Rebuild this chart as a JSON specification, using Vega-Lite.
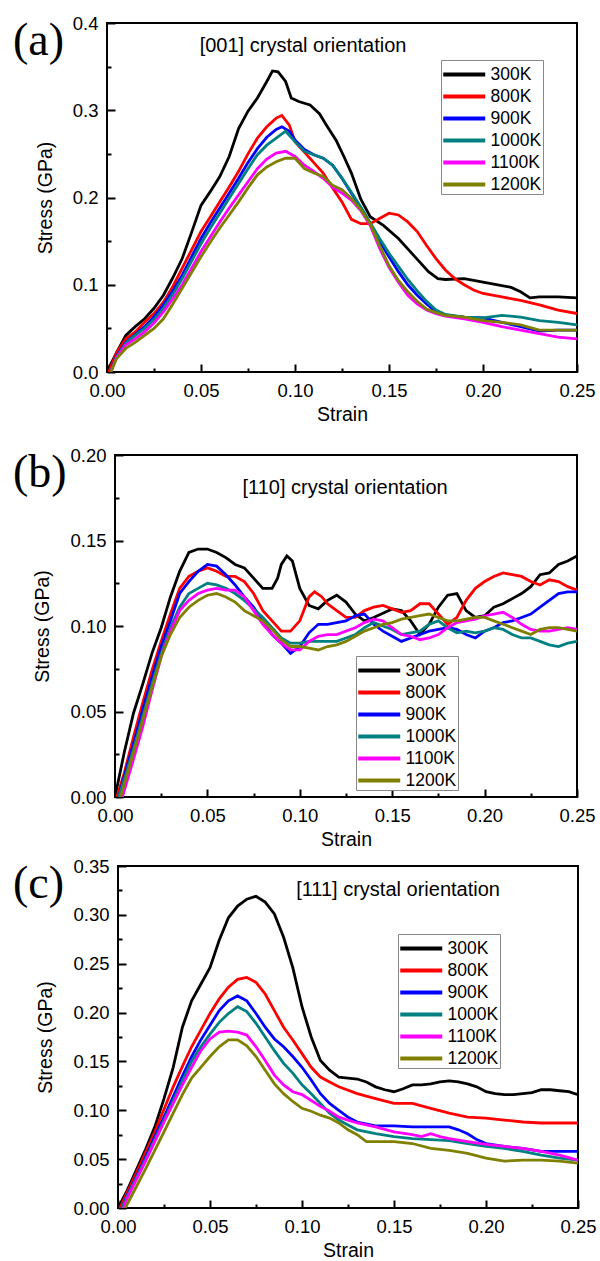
{
"$schema": "https://vega.github.io/schema/vega-lite/v6.json",
"background": "white",
"padding": {"left": 5, "top": 13, "right": 0, "bottom": 0},
"config": {
 "font": "Liberation Sans",
 "view": {"stroke": "black", "strokeWidth": 2},
 "axis": {"grid": false, "domain": false, "ticks": true, "tickColor": "black", "tickWidth": 2, "labelFont": "Liberation Sans", "labelFontSize": 18.5, "labelColor": "black", "labelPadding": 17, "labelFlush": false, "labelOverlap": false, "titleFont": "Liberation Sans", "titleFontSize": 19.5, "titleFontWeight": "normal", "titleColor": "black"},
 "axisX": {"titlePadding": 2},
 "axisY": {"titlePadding": 17},
 "legend": {"title": null, "orient": "none", "symbolType": "M-1.089,0H2.644", "symbolSize": 506, "symbolStrokeWidth": 4, "symbolFillColor": "transparent", "labelFont": "Liberation Sans", "labelFontSize": 17.5, "labelColor": "black", "strokeColor": "#888888", "fillColor": "white", "padding": 1, "rowPadding": 0, "labelOffset": 21.5}
},
"datasets": {
 "a": [
{"T":"300K","strain":0,"stress":0},{"T":"300K","strain":0.005,"stress":0.022},{"T":"300K","strain":0.01,"stress":0.042},{"T":"300K","strain":0.015,"stress":0.052},{"T":"300K","strain":0.02,"stress":0.061},{"T":"300K","strain":0.025,"stress":0.073},{"T":"300K","strain":0.03,"stress":0.088},{"T":"300K","strain":0.035,"stress":0.108},{"T":"300K","strain":0.04,"stress":0.13},{"T":"300K","strain":0.045,"stress":0.16},{"T":"300K","strain":0.05,"stress":0.191},{"T":"300K","strain":0.055,"stress":0.207},{"T":"300K","strain":0.06,"stress":0.224},{"T":"300K","strain":0.065,"stress":0.247},{"T":"300K","strain":0.07,"stress":0.279},{"T":"300K","strain":0.075,"stress":0.299},{"T":"300K","strain":0.08,"stress":0.314},{"T":"300K","strain":0.085,"stress":0.333},{"T":"300K","strain":0.088,"stress":0.345},{"T":"300K","strain":0.091,"stress":0.344},{"T":"300K","strain":0.095,"stress":0.333},{"T":"300K","strain":0.098,"stress":0.314},{"T":"300K","strain":0.102,"stress":0.31},{"T":"300K","strain":0.108,"stress":0.306},{"T":"300K","strain":0.113,"stress":0.296},{"T":"300K","strain":0.117,"stress":0.282},{"T":"300K","strain":0.122,"stress":0.265},{"T":"300K","strain":0.126,"stress":0.247},{"T":"300K","strain":0.13,"stress":0.228},{"T":"300K","strain":0.135,"stress":0.198},{"T":"300K","strain":0.14,"stress":0.178},{"T":"300K","strain":0.147,"stress":0.168},{"T":"300K","strain":0.155,"stress":0.153},{"T":"300K","strain":0.163,"stress":0.134},{"T":"300K","strain":0.171,"stress":0.115},{"T":"300K","strain":0.176,"stress":0.107},{"T":"300K","strain":0.18,"stress":0.106},{"T":"300K","strain":0.19,"stress":0.107},{"T":"300K","strain":0.2,"stress":0.103},{"T":"300K","strain":0.21,"stress":0.099},{"T":"300K","strain":0.215,"stress":0.097},{"T":"300K","strain":0.22,"stress":0.092},{"T":"300K","strain":0.225,"stress":0.085},{"T":"300K","strain":0.23,"stress":0.086},{"T":"300K","strain":0.24,"stress":0.086},{"T":"300K","strain":0.25,"stress":0.085},
{"T":"800K","strain":0.001,"stress":0},{"T":"800K","strain":0.005,"stress":0.022},{"T":"800K","strain":0.01,"stress":0.038},{"T":"800K","strain":0.015,"stress":0.046},{"T":"800K","strain":0.02,"stress":0.057},{"T":"800K","strain":0.025,"stress":0.067},{"T":"800K","strain":0.03,"stress":0.08},{"T":"800K","strain":0.035,"stress":0.098},{"T":"800K","strain":0.04,"stress":0.119},{"T":"800K","strain":0.045,"stress":0.14},{"T":"800K","strain":0.05,"stress":0.161},{"T":"800K","strain":0.055,"stress":0.178},{"T":"800K","strain":0.06,"stress":0.195},{"T":"800K","strain":0.065,"stress":0.212},{"T":"800K","strain":0.07,"stress":0.23},{"T":"800K","strain":0.075,"stress":0.25},{"T":"800K","strain":0.08,"stress":0.268},{"T":"800K","strain":0.085,"stress":0.281},{"T":"800K","strain":0.09,"stress":0.291},{"T":"800K","strain":0.093,"stress":0.294},{"T":"800K","strain":0.097,"stress":0.283},{"T":"800K","strain":0.1,"stress":0.264},{"T":"800K","strain":0.105,"stress":0.252},{"T":"800K","strain":0.11,"stress":0.24},{"T":"800K","strain":0.115,"stress":0.228},{"T":"800K","strain":0.12,"stress":0.211},{"T":"800K","strain":0.125,"stress":0.195},{"T":"800K","strain":0.13,"stress":0.175},{"T":"800K","strain":0.135,"stress":0.17},{"T":"800K","strain":0.14,"stress":0.17},{"T":"800K","strain":0.145,"stress":0.176},{"T":"800K","strain":0.15,"stress":0.182},{"T":"800K","strain":0.155,"stress":0.18},{"T":"800K","strain":0.16,"stress":0.172},{"T":"800K","strain":0.165,"stress":0.161},{"T":"800K","strain":0.17,"stress":0.145},{"T":"800K","strain":0.175,"stress":0.13},{"T":"800K","strain":0.18,"stress":0.117},{"T":"800K","strain":0.185,"stress":0.107},{"T":"800K","strain":0.19,"stress":0.1},{"T":"800K","strain":0.195,"stress":0.094},{"T":"800K","strain":0.2,"stress":0.09},{"T":"800K","strain":0.21,"stress":0.086},{"T":"800K","strain":0.22,"stress":0.082},{"T":"800K","strain":0.23,"stress":0.077},{"T":"800K","strain":0.24,"stress":0.071},{"T":"800K","strain":0.25,"stress":0.067},
{"T":"900K","strain":0.002,"stress":0},{"T":"900K","strain":0.005,"stress":0.018},{"T":"900K","strain":0.01,"stress":0.034},{"T":"900K","strain":0.015,"stress":0.043},{"T":"900K","strain":0.02,"stress":0.052},{"T":"900K","strain":0.025,"stress":0.063},{"T":"900K","strain":0.03,"stress":0.077},{"T":"900K","strain":0.035,"stress":0.093},{"T":"900K","strain":0.04,"stress":0.111},{"T":"900K","strain":0.045,"stress":0.132},{"T":"900K","strain":0.05,"stress":0.153},{"T":"900K","strain":0.055,"stress":0.171},{"T":"900K","strain":0.06,"stress":0.188},{"T":"900K","strain":0.065,"stress":0.205},{"T":"900K","strain":0.07,"stress":0.222},{"T":"900K","strain":0.075,"stress":0.24},{"T":"900K","strain":0.08,"stress":0.256},{"T":"900K","strain":0.085,"stress":0.269},{"T":"900K","strain":0.09,"stress":0.278},{"T":"900K","strain":0.093,"stress":0.281},{"T":"900K","strain":0.097,"stress":0.276},{"T":"900K","strain":0.1,"stress":0.266},{"T":"900K","strain":0.105,"stress":0.255},{"T":"900K","strain":0.11,"stress":0.249},{"T":"900K","strain":0.115,"stress":0.245},{"T":"900K","strain":0.12,"stress":0.237},{"T":"900K","strain":0.125,"stress":0.222},{"T":"900K","strain":0.13,"stress":0.205},{"T":"900K","strain":0.135,"stress":0.188},{"T":"900K","strain":0.14,"stress":0.17},{"T":"900K","strain":0.145,"stress":0.15},{"T":"900K","strain":0.15,"stress":0.132},{"T":"900K","strain":0.155,"stress":0.115},{"T":"900K","strain":0.16,"stress":0.1},{"T":"900K","strain":0.165,"stress":0.088},{"T":"900K","strain":0.17,"stress":0.078},{"T":"900K","strain":0.175,"stress":0.069},{"T":"900K","strain":0.18,"stress":0.065},{"T":"900K","strain":0.19,"stress":0.063},{"T":"900K","strain":0.2,"stress":0.062},{"T":"900K","strain":0.21,"stress":0.057},{"T":"900K","strain":0.22,"stress":0.052},{"T":"900K","strain":0.23,"stress":0.047},{"T":"900K","strain":0.24,"stress":0.048},{"T":"900K","strain":0.25,"stress":0.048},
{"T":"1000K","strain":0.002,"stress":0},{"T":"1000K","strain":0.005,"stress":0.017},{"T":"1000K","strain":0.01,"stress":0.033},{"T":"1000K","strain":0.015,"stress":0.042},{"T":"1000K","strain":0.02,"stress":0.05},{"T":"1000K","strain":0.025,"stress":0.06},{"T":"1000K","strain":0.03,"stress":0.073},{"T":"1000K","strain":0.035,"stress":0.089},{"T":"1000K","strain":0.04,"stress":0.107},{"T":"1000K","strain":0.045,"stress":0.127},{"T":"1000K","strain":0.05,"stress":0.147},{"T":"1000K","strain":0.055,"stress":0.165},{"T":"1000K","strain":0.06,"stress":0.182},{"T":"1000K","strain":0.065,"stress":0.199},{"T":"1000K","strain":0.07,"stress":0.216},{"T":"1000K","strain":0.075,"stress":0.233},{"T":"1000K","strain":0.08,"stress":0.249},{"T":"1000K","strain":0.085,"stress":0.26},{"T":"1000K","strain":0.09,"stress":0.268},{"T":"1000K","strain":0.095,"stress":0.276},{"T":"1000K","strain":0.1,"stress":0.264},{"T":"1000K","strain":0.105,"stress":0.253},{"T":"1000K","strain":0.11,"stress":0.249},{"T":"1000K","strain":0.115,"stress":0.245},{"T":"1000K","strain":0.12,"stress":0.237},{"T":"1000K","strain":0.125,"stress":0.222},{"T":"1000K","strain":0.13,"stress":0.206},{"T":"1000K","strain":0.135,"stress":0.189},{"T":"1000K","strain":0.14,"stress":0.171},{"T":"1000K","strain":0.145,"stress":0.153},{"T":"1000K","strain":0.15,"stress":0.136},{"T":"1000K","strain":0.155,"stress":0.121},{"T":"1000K","strain":0.16,"stress":0.106},{"T":"1000K","strain":0.165,"stress":0.093},{"T":"1000K","strain":0.17,"stress":0.081},{"T":"1000K","strain":0.175,"stress":0.071},{"T":"1000K","strain":0.18,"stress":0.066},{"T":"1000K","strain":0.19,"stress":0.063},{"T":"1000K","strain":0.2,"stress":0.062},{"T":"1000K","strain":0.21,"stress":0.065},{"T":"1000K","strain":0.22,"stress":0.063},{"T":"1000K","strain":0.23,"stress":0.059},{"T":"1000K","strain":0.24,"stress":0.057},{"T":"1000K","strain":0.25,"stress":0.054},
{"T":"1100K","strain":0.002,"stress":0},{"T":"1100K","strain":0.005,"stress":0.016},{"T":"1100K","strain":0.01,"stress":0.031},{"T":"1100K","strain":0.015,"stress":0.038},{"T":"1100K","strain":0.02,"stress":0.046},{"T":"1100K","strain":0.025,"stress":0.056},{"T":"1100K","strain":0.03,"stress":0.069},{"T":"1100K","strain":0.035,"stress":0.084},{"T":"1100K","strain":0.04,"stress":0.1},{"T":"1100K","strain":0.045,"stress":0.119},{"T":"1100K","strain":0.05,"stress":0.138},{"T":"1100K","strain":0.055,"stress":0.155},{"T":"1100K","strain":0.06,"stress":0.172},{"T":"1100K","strain":0.065,"stress":0.188},{"T":"1100K","strain":0.07,"stress":0.203},{"T":"1100K","strain":0.075,"stress":0.218},{"T":"1100K","strain":0.08,"stress":0.233},{"T":"1100K","strain":0.085,"stress":0.244},{"T":"1100K","strain":0.09,"stress":0.251},{"T":"1100K","strain":0.095,"stress":0.253},{"T":"1100K","strain":0.1,"stress":0.247},{"T":"1100K","strain":0.105,"stress":0.237},{"T":"1100K","strain":0.11,"stress":0.23},{"T":"1100K","strain":0.115,"stress":0.222},{"T":"1100K","strain":0.12,"stress":0.212},{"T":"1100K","strain":0.125,"stress":0.205},{"T":"1100K","strain":0.13,"stress":0.197},{"T":"1100K","strain":0.135,"stress":0.185},{"T":"1100K","strain":0.14,"stress":0.168},{"T":"1100K","strain":0.145,"stress":0.142},{"T":"1100K","strain":0.15,"stress":0.12},{"T":"1100K","strain":0.155,"stress":0.103},{"T":"1100K","strain":0.16,"stress":0.088},{"T":"1100K","strain":0.165,"stress":0.078},{"T":"1100K","strain":0.17,"stress":0.071},{"T":"1100K","strain":0.175,"stress":0.067},{"T":"1100K","strain":0.18,"stress":0.064},{"T":"1100K","strain":0.19,"stress":0.061},{"T":"1100K","strain":0.2,"stress":0.057},{"T":"1100K","strain":0.21,"stress":0.052},{"T":"1100K","strain":0.22,"stress":0.048},{"T":"1100K","strain":0.23,"stress":0.044},{"T":"1100K","strain":0.24,"stress":0.04},{"T":"1100K","strain":0.25,"stress":0.038},
{"T":"1200K","strain":0.002,"stress":0},{"T":"1200K","strain":0.005,"stress":0.015},{"T":"1200K","strain":0.01,"stress":0.027},{"T":"1200K","strain":0.015,"stress":0.034},{"T":"1200K","strain":0.02,"stress":0.042},{"T":"1200K","strain":0.025,"stress":0.05},{"T":"1200K","strain":0.03,"stress":0.061},{"T":"1200K","strain":0.035,"stress":0.078},{"T":"1200K","strain":0.04,"stress":0.096},{"T":"1200K","strain":0.045,"stress":0.114},{"T":"1200K","strain":0.05,"stress":0.132},{"T":"1200K","strain":0.055,"stress":0.149},{"T":"1200K","strain":0.06,"stress":0.165},{"T":"1200K","strain":0.065,"stress":0.18},{"T":"1200K","strain":0.07,"stress":0.195},{"T":"1200K","strain":0.075,"stress":0.211},{"T":"1200K","strain":0.08,"stress":0.226},{"T":"1200K","strain":0.085,"stress":0.235},{"T":"1200K","strain":0.09,"stress":0.241},{"T":"1200K","strain":0.095,"stress":0.245},{"T":"1200K","strain":0.1,"stress":0.245},{"T":"1200K","strain":0.105,"stress":0.233},{"T":"1200K","strain":0.11,"stress":0.228},{"T":"1200K","strain":0.115,"stress":0.224},{"T":"1200K","strain":0.12,"stress":0.214},{"T":"1200K","strain":0.125,"stress":0.209},{"T":"1200K","strain":0.13,"stress":0.199},{"T":"1200K","strain":0.135,"stress":0.186},{"T":"1200K","strain":0.14,"stress":0.17},{"T":"1200K","strain":0.145,"stress":0.145},{"T":"1200K","strain":0.15,"stress":0.122},{"T":"1200K","strain":0.155,"stress":0.105},{"T":"1200K","strain":0.16,"stress":0.092},{"T":"1200K","strain":0.165,"stress":0.081},{"T":"1200K","strain":0.17,"stress":0.072},{"T":"1200K","strain":0.175,"stress":0.068},{"T":"1200K","strain":0.18,"stress":0.065},{"T":"1200K","strain":0.19,"stress":0.063},{"T":"1200K","strain":0.2,"stress":0.059},{"T":"1200K","strain":0.21,"stress":0.057},{"T":"1200K","strain":0.22,"stress":0.054},{"T":"1200K","strain":0.23,"stress":0.048},{"T":"1200K","strain":0.24,"stress":0.048},{"T":"1200K","strain":0.25,"stress":0.048}
 ],
 "b": [
{"T":"300K","strain":0,"stress":0},{"T":"300K","strain":0.005,"stress":0.026},{"T":"300K","strain":0.01,"stress":0.049},{"T":"300K","strain":0.015,"stress":0.066},{"T":"300K","strain":0.02,"stress":0.084},{"T":"300K","strain":0.025,"stress":0.099},{"T":"300K","strain":0.03,"stress":0.117},{"T":"300K","strain":0.035,"stress":0.132},{"T":"300K","strain":0.04,"stress":0.143},{"T":"300K","strain":0.045,"stress":0.145},{"T":"300K","strain":0.05,"stress":0.145},{"T":"300K","strain":0.055,"stress":0.143},{"T":"300K","strain":0.06,"stress":0.14},{"T":"300K","strain":0.065,"stress":0.136},{"T":"300K","strain":0.07,"stress":0.134},{"T":"300K","strain":0.075,"stress":0.128},{"T":"300K","strain":0.08,"stress":0.122},{"T":"300K","strain":0.085,"stress":0.122},{"T":"300K","strain":0.088,"stress":0.128},{"T":"300K","strain":0.09,"stress":0.136},{"T":"300K","strain":0.093,"stress":0.141},{"T":"300K","strain":0.096,"stress":0.138},{"T":"300K","strain":0.1,"stress":0.122},{"T":"300K","strain":0.105,"stress":0.112},{"T":"300K","strain":0.11,"stress":0.11},{"T":"300K","strain":0.115,"stress":0.115},{"T":"300K","strain":0.12,"stress":0.118},{"T":"300K","strain":0.125,"stress":0.114},{"T":"300K","strain":0.13,"stress":0.107},{"T":"300K","strain":0.135,"stress":0.103},{"T":"300K","strain":0.14,"stress":0.105},{"T":"300K","strain":0.15,"stress":0.11},{"T":"300K","strain":0.155,"stress":0.109},{"T":"300K","strain":0.16,"stress":0.103},{"T":"300K","strain":0.165,"stress":0.095},{"T":"300K","strain":0.17,"stress":0.101},{"T":"300K","strain":0.175,"stress":0.111},{"T":"300K","strain":0.18,"stress":0.118},{"T":"300K","strain":0.185,"stress":0.119},{"T":"300K","strain":0.19,"stress":0.109},{"T":"300K","strain":0.195,"stress":0.105},{"T":"300K","strain":0.2,"stress":0.106},{"T":"300K","strain":0.205,"stress":0.111},{"T":"300K","strain":0.21,"stress":0.113},{"T":"300K","strain":0.215,"stress":0.116},{"T":"300K","strain":0.22,"stress":0.119},{"T":"300K","strain":0.225,"stress":0.123},{"T":"300K","strain":0.23,"stress":0.13},{"T":"300K","strain":0.235,"stress":0.131},{"T":"300K","strain":0.24,"stress":0.136},{"T":"300K","strain":0.245,"stress":0.138},{"T":"300K","strain":0.25,"stress":0.141},
{"T":"800K","strain":0.001,"stress":0},{"T":"800K","strain":0.005,"stress":0.014},{"T":"800K","strain":0.01,"stress":0.035},{"T":"800K","strain":0.015,"stress":0.055},{"T":"800K","strain":0.02,"stress":0.074},{"T":"800K","strain":0.025,"stress":0.091},{"T":"800K","strain":0.03,"stress":0.107},{"T":"800K","strain":0.035,"stress":0.122},{"T":"800K","strain":0.04,"stress":0.129},{"T":"800K","strain":0.045,"stress":0.132},{"T":"800K","strain":0.05,"stress":0.134},{"T":"800K","strain":0.055,"stress":0.132},{"T":"800K","strain":0.06,"stress":0.129},{"T":"800K","strain":0.065,"stress":0.129},{"T":"800K","strain":0.07,"stress":0.126},{"T":"800K","strain":0.075,"stress":0.119},{"T":"800K","strain":0.08,"stress":0.109},{"T":"800K","strain":0.085,"stress":0.103},{"T":"800K","strain":0.09,"stress":0.097},{"T":"800K","strain":0.095,"stress":0.097},{"T":"800K","strain":0.1,"stress":0.103},{"T":"800K","strain":0.105,"stress":0.117},{"T":"800K","strain":0.108,"stress":0.12},{"T":"800K","strain":0.112,"stress":0.117},{"T":"800K","strain":0.115,"stress":0.113},{"T":"800K","strain":0.12,"stress":0.109},{"T":"800K","strain":0.125,"stress":0.105},{"T":"800K","strain":0.13,"stress":0.105},{"T":"800K","strain":0.135,"stress":0.109},{"T":"800K","strain":0.14,"stress":0.111},{"T":"800K","strain":0.145,"stress":0.112},{"T":"800K","strain":0.15,"stress":0.11},{"T":"800K","strain":0.155,"stress":0.108},{"T":"800K","strain":0.16,"stress":0.109},{"T":"800K","strain":0.165,"stress":0.113},{"T":"800K","strain":0.17,"stress":0.113},{"T":"800K","strain":0.175,"stress":0.107},{"T":"800K","strain":0.18,"stress":0.101},{"T":"800K","strain":0.185,"stress":0.105},{"T":"800K","strain":0.19,"stress":0.115},{"T":"800K","strain":0.195,"stress":0.122},{"T":"800K","strain":0.2,"stress":0.126},{"T":"800K","strain":0.205,"stress":0.129},{"T":"800K","strain":0.21,"stress":0.131},{"T":"800K","strain":0.215,"stress":0.13},{"T":"800K","strain":0.22,"stress":0.129},{"T":"800K","strain":0.225,"stress":0.126},{"T":"800K","strain":0.23,"stress":0.124},{"T":"800K","strain":0.235,"stress":0.127},{"T":"800K","strain":0.24,"stress":0.126},{"T":"800K","strain":0.245,"stress":0.123},{"T":"800K","strain":0.25,"stress":0.121},
{"T":"900K","strain":0.002,"stress":0},{"T":"900K","strain":0.005,"stress":0.012},{"T":"900K","strain":0.01,"stress":0.031},{"T":"900K","strain":0.015,"stress":0.051},{"T":"900K","strain":0.02,"stress":0.07},{"T":"900K","strain":0.025,"stress":0.088},{"T":"900K","strain":0.03,"stress":0.103},{"T":"900K","strain":0.035,"stress":0.119},{"T":"900K","strain":0.04,"stress":0.126},{"T":"900K","strain":0.045,"stress":0.132},{"T":"900K","strain":0.05,"stress":0.136},{"T":"900K","strain":0.055,"stress":0.135},{"T":"900K","strain":0.06,"stress":0.13},{"T":"900K","strain":0.065,"stress":0.124},{"T":"900K","strain":0.07,"stress":0.117},{"T":"900K","strain":0.075,"stress":0.111},{"T":"900K","strain":0.08,"stress":0.103},{"T":"900K","strain":0.085,"stress":0.095},{"T":"900K","strain":0.09,"stress":0.09},{"T":"900K","strain":0.095,"stress":0.084},{"T":"900K","strain":0.1,"stress":0.088},{"T":"900K","strain":0.105,"stress":0.096},{"T":"900K","strain":0.11,"stress":0.101},{"T":"900K","strain":0.115,"stress":0.101},{"T":"900K","strain":0.12,"stress":0.102},{"T":"900K","strain":0.125,"stress":0.103},{"T":"900K","strain":0.13,"stress":0.106},{"T":"900K","strain":0.135,"stress":0.107},{"T":"900K","strain":0.14,"stress":0.101},{"T":"900K","strain":0.145,"stress":0.097},{"T":"900K","strain":0.15,"stress":0.094},{"T":"900K","strain":0.155,"stress":0.091},{"T":"900K","strain":0.16,"stress":0.093},{"T":"900K","strain":0.165,"stress":0.095},{"T":"900K","strain":0.17,"stress":0.097},{"T":"900K","strain":0.175,"stress":0.098},{"T":"900K","strain":0.18,"stress":0.099},{"T":"900K","strain":0.185,"stress":0.098},{"T":"900K","strain":0.19,"stress":0.095},{"T":"900K","strain":0.195,"stress":0.093},{"T":"900K","strain":0.2,"stress":0.097},{"T":"900K","strain":0.205,"stress":0.099},{"T":"900K","strain":0.21,"stress":0.102},{"T":"900K","strain":0.215,"stress":0.103},{"T":"900K","strain":0.22,"stress":0.105},{"T":"900K","strain":0.225,"stress":0.107},{"T":"900K","strain":0.23,"stress":0.111},{"T":"900K","strain":0.235,"stress":0.115},{"T":"900K","strain":0.24,"stress":0.119},{"T":"900K","strain":0.245,"stress":0.12},{"T":"900K","strain":0.25,"stress":0.12},
{"T":"1000K","strain":0.002,"stress":0},{"T":"1000K","strain":0.005,"stress":0.01},{"T":"1000K","strain":0.01,"stress":0.028},{"T":"1000K","strain":0.015,"stress":0.047},{"T":"1000K","strain":0.02,"stress":0.066},{"T":"1000K","strain":0.025,"stress":0.084},{"T":"1000K","strain":0.03,"stress":0.099},{"T":"1000K","strain":0.035,"stress":0.111},{"T":"1000K","strain":0.04,"stress":0.119},{"T":"1000K","strain":0.045,"stress":0.122},{"T":"1000K","strain":0.05,"stress":0.125},{"T":"1000K","strain":0.055,"stress":0.124},{"T":"1000K","strain":0.06,"stress":0.122},{"T":"1000K","strain":0.065,"stress":0.119},{"T":"1000K","strain":0.07,"stress":0.115},{"T":"1000K","strain":0.075,"stress":0.11},{"T":"1000K","strain":0.08,"stress":0.105},{"T":"1000K","strain":0.085,"stress":0.099},{"T":"1000K","strain":0.09,"stress":0.093},{"T":"1000K","strain":0.095,"stress":0.09},{"T":"1000K","strain":0.1,"stress":0.09},{"T":"1000K","strain":0.105,"stress":0.091},{"T":"1000K","strain":0.11,"stress":0.091},{"T":"1000K","strain":0.115,"stress":0.091},{"T":"1000K","strain":0.12,"stress":0.091},{"T":"1000K","strain":0.125,"stress":0.093},{"T":"1000K","strain":0.13,"stress":0.095},{"T":"1000K","strain":0.135,"stress":0.099},{"T":"1000K","strain":0.14,"stress":0.102},{"T":"1000K","strain":0.145,"stress":0.1},{"T":"1000K","strain":0.15,"stress":0.098},{"T":"1000K","strain":0.155,"stress":0.095},{"T":"1000K","strain":0.16,"stress":0.096},{"T":"1000K","strain":0.165,"stress":0.097},{"T":"1000K","strain":0.17,"stress":0.101},{"T":"1000K","strain":0.175,"stress":0.103},{"T":"1000K","strain":0.18,"stress":0.099},{"T":"1000K","strain":0.185,"stress":0.096},{"T":"1000K","strain":0.19,"stress":0.097},{"T":"1000K","strain":0.195,"stress":0.096},{"T":"1000K","strain":0.2,"stress":0.097},{"T":"1000K","strain":0.205,"stress":0.099},{"T":"1000K","strain":0.21,"stress":0.098},{"T":"1000K","strain":0.215,"stress":0.095},{"T":"1000K","strain":0.22,"stress":0.093},{"T":"1000K","strain":0.225,"stress":0.093},{"T":"1000K","strain":0.23,"stress":0.091},{"T":"1000K","strain":0.235,"stress":0.089},{"T":"1000K","strain":0.24,"stress":0.088},{"T":"1000K","strain":0.245,"stress":0.09},{"T":"1000K","strain":0.25,"stress":0.091},
{"T":"1100K","strain":0.004,"stress":0},{"T":"1100K","strain":0.01,"stress":0.022},{"T":"1100K","strain":0.015,"stress":0.041},{"T":"1100K","strain":0.02,"stress":0.062},{"T":"1100K","strain":0.025,"stress":0.082},{"T":"1100K","strain":0.03,"stress":0.097},{"T":"1100K","strain":0.035,"stress":0.109},{"T":"1100K","strain":0.04,"stress":0.115},{"T":"1100K","strain":0.045,"stress":0.119},{"T":"1100K","strain":0.05,"stress":0.121},{"T":"1100K","strain":0.055,"stress":0.122},{"T":"1100K","strain":0.06,"stress":0.121},{"T":"1100K","strain":0.065,"stress":0.121},{"T":"1100K","strain":0.07,"stress":0.117},{"T":"1100K","strain":0.075,"stress":0.109},{"T":"1100K","strain":0.08,"stress":0.101},{"T":"1100K","strain":0.085,"stress":0.095},{"T":"1100K","strain":0.09,"stress":0.09},{"T":"1100K","strain":0.095,"stress":0.086},{"T":"1100K","strain":0.1,"stress":0.086},{"T":"1100K","strain":0.105,"stress":0.091},{"T":"1100K","strain":0.11,"stress":0.094},{"T":"1100K","strain":0.115,"stress":0.095},{"T":"1100K","strain":0.12,"stress":0.095},{"T":"1100K","strain":0.125,"stress":0.097},{"T":"1100K","strain":0.13,"stress":0.099},{"T":"1100K","strain":0.135,"stress":0.102},{"T":"1100K","strain":0.14,"stress":0.104},{"T":"1100K","strain":0.145,"stress":0.103},{"T":"1100K","strain":0.15,"stress":0.099},{"T":"1100K","strain":0.155,"stress":0.095},{"T":"1100K","strain":0.16,"stress":0.094},{"T":"1100K","strain":0.165,"stress":0.092},{"T":"1100K","strain":0.17,"stress":0.093},{"T":"1100K","strain":0.175,"stress":0.095},{"T":"1100K","strain":0.18,"stress":0.099},{"T":"1100K","strain":0.185,"stress":0.102},{"T":"1100K","strain":0.19,"stress":0.103},{"T":"1100K","strain":0.195,"stress":0.104},{"T":"1100K","strain":0.2,"stress":0.106},{"T":"1100K","strain":0.205,"stress":0.107},{"T":"1100K","strain":0.21,"stress":0.108},{"T":"1100K","strain":0.215,"stress":0.105},{"T":"1100K","strain":0.22,"stress":0.101},{"T":"1100K","strain":0.225,"stress":0.098},{"T":"1100K","strain":0.23,"stress":0.097},{"T":"1100K","strain":0.235,"stress":0.097},{"T":"1100K","strain":0.24,"stress":0.098},{"T":"1100K","strain":0.245,"stress":0.099},{"T":"1100K","strain":0.25,"stress":0.098},
{"T":"1200K","strain":0.003,"stress":0},{"T":"1200K","strain":0.01,"stress":0.026},{"T":"1200K","strain":0.015,"stress":0.045},{"T":"1200K","strain":0.02,"stress":0.064},{"T":"1200K","strain":0.025,"stress":0.082},{"T":"1200K","strain":0.03,"stress":0.095},{"T":"1200K","strain":0.035,"stress":0.105},{"T":"1200K","strain":0.04,"stress":0.111},{"T":"1200K","strain":0.045,"stress":0.115},{"T":"1200K","strain":0.05,"stress":0.118},{"T":"1200K","strain":0.055,"stress":0.119},{"T":"1200K","strain":0.06,"stress":0.117},{"T":"1200K","strain":0.065,"stress":0.114},{"T":"1200K","strain":0.07,"stress":0.109},{"T":"1200K","strain":0.075,"stress":0.106},{"T":"1200K","strain":0.08,"stress":0.103},{"T":"1200K","strain":0.085,"stress":0.098},{"T":"1200K","strain":0.09,"stress":0.092},{"T":"1200K","strain":0.095,"stress":0.088},{"T":"1200K","strain":0.1,"stress":0.088},{"T":"1200K","strain":0.105,"stress":0.087},{"T":"1200K","strain":0.11,"stress":0.086},{"T":"1200K","strain":0.115,"stress":0.088},{"T":"1200K","strain":0.12,"stress":0.089},{"T":"1200K","strain":0.125,"stress":0.091},{"T":"1200K","strain":0.13,"stress":0.094},{"T":"1200K","strain":0.135,"stress":0.097},{"T":"1200K","strain":0.14,"stress":0.099},{"T":"1200K","strain":0.145,"stress":0.101},{"T":"1200K","strain":0.15,"stress":0.102},{"T":"1200K","strain":0.155,"stress":0.104},{"T":"1200K","strain":0.16,"stress":0.105},{"T":"1200K","strain":0.165,"stress":0.106},{"T":"1200K","strain":0.17,"stress":0.107},{"T":"1200K","strain":0.175,"stress":0.105},{"T":"1200K","strain":0.18,"stress":0.103},{"T":"1200K","strain":0.185,"stress":0.103},{"T":"1200K","strain":0.19,"stress":0.104},{"T":"1200K","strain":0.195,"stress":0.105},{"T":"1200K","strain":0.2,"stress":0.105},{"T":"1200K","strain":0.205,"stress":0.103},{"T":"1200K","strain":0.21,"stress":0.101},{"T":"1200K","strain":0.215,"stress":0.099},{"T":"1200K","strain":0.22,"stress":0.097},{"T":"1200K","strain":0.225,"stress":0.095},{"T":"1200K","strain":0.23,"stress":0.098},{"T":"1200K","strain":0.235,"stress":0.099},{"T":"1200K","strain":0.24,"stress":0.099},{"T":"1200K","strain":0.245,"stress":0.098},{"T":"1200K","strain":0.25,"stress":0.097}
 ],
 "c": [
{"T":"300K","strain":0,"stress":0},{"T":"300K","strain":0.005,"stress":0.018},{"T":"300K","strain":0.01,"stress":0.039},{"T":"300K","strain":0.015,"stress":0.06},{"T":"300K","strain":0.02,"stress":0.083},{"T":"300K","strain":0.025,"stress":0.112},{"T":"300K","strain":0.03,"stress":0.144},{"T":"300K","strain":0.035,"stress":0.185},{"T":"300K","strain":0.04,"stress":0.212},{"T":"300K","strain":0.045,"stress":0.229},{"T":"300K","strain":0.05,"stress":0.246},{"T":"300K","strain":0.055,"stress":0.274},{"T":"300K","strain":0.06,"stress":0.297},{"T":"300K","strain":0.065,"stress":0.309},{"T":"300K","strain":0.07,"stress":0.316},{"T":"300K","strain":0.075,"stress":0.319},{"T":"300K","strain":0.08,"stress":0.313},{"T":"300K","strain":0.085,"stress":0.301},{"T":"300K","strain":0.09,"stress":0.277},{"T":"300K","strain":0.095,"stress":0.246},{"T":"300K","strain":0.1,"stress":0.206},{"T":"300K","strain":0.105,"stress":0.175},{"T":"300K","strain":0.11,"stress":0.151},{"T":"300K","strain":0.115,"stress":0.141},{"T":"300K","strain":0.12,"stress":0.134},{"T":"300K","strain":0.125,"stress":0.133},{"T":"300K","strain":0.13,"stress":0.132},{"T":"300K","strain":0.135,"stress":0.129},{"T":"300K","strain":0.14,"stress":0.124},{"T":"300K","strain":0.145,"stress":0.121},{"T":"300K","strain":0.15,"stress":0.119},{"T":"300K","strain":0.155,"stress":0.122},{"T":"300K","strain":0.16,"stress":0.126},{"T":"300K","strain":0.165,"stress":0.126},{"T":"300K","strain":0.17,"stress":0.127},{"T":"300K","strain":0.175,"stress":0.129},{"T":"300K","strain":0.18,"stress":0.13},{"T":"300K","strain":0.185,"stress":0.129},{"T":"300K","strain":0.19,"stress":0.127},{"T":"300K","strain":0.195,"stress":0.124},{"T":"300K","strain":0.2,"stress":0.119},{"T":"300K","strain":0.205,"stress":0.117},{"T":"300K","strain":0.21,"stress":0.116},{"T":"300K","strain":0.215,"stress":0.116},{"T":"300K","strain":0.22,"stress":0.117},{"T":"300K","strain":0.225,"stress":0.118},{"T":"300K","strain":0.23,"stress":0.121},{"T":"300K","strain":0.235,"stress":0.121},{"T":"300K","strain":0.24,"stress":0.12},{"T":"300K","strain":0.245,"stress":0.119},{"T":"300K","strain":0.25,"stress":0.116},
{"T":"800K","strain":0.001,"stress":0},{"T":"800K","strain":0.005,"stress":0.016},{"T":"800K","strain":0.01,"stress":0.036},{"T":"800K","strain":0.015,"stress":0.057},{"T":"800K","strain":0.02,"stress":0.078},{"T":"800K","strain":0.025,"stress":0.101},{"T":"800K","strain":0.03,"stress":0.124},{"T":"800K","strain":0.035,"stress":0.145},{"T":"800K","strain":0.04,"stress":0.165},{"T":"800K","strain":0.045,"stress":0.182},{"T":"800K","strain":0.05,"stress":0.199},{"T":"800K","strain":0.055,"stress":0.214},{"T":"800K","strain":0.06,"stress":0.226},{"T":"800K","strain":0.065,"stress":0.234},{"T":"800K","strain":0.07,"stress":0.236},{"T":"800K","strain":0.075,"stress":0.231},{"T":"800K","strain":0.08,"stress":0.219},{"T":"800K","strain":0.085,"stress":0.202},{"T":"800K","strain":0.09,"stress":0.185},{"T":"800K","strain":0.095,"stress":0.172},{"T":"800K","strain":0.1,"stress":0.158},{"T":"800K","strain":0.105,"stress":0.144},{"T":"800K","strain":0.11,"stress":0.134},{"T":"800K","strain":0.115,"stress":0.129},{"T":"800K","strain":0.12,"stress":0.124},{"T":"800K","strain":0.13,"stress":0.117},{"T":"800K","strain":0.14,"stress":0.112},{"T":"800K","strain":0.15,"stress":0.107},{"T":"800K","strain":0.16,"stress":0.107},{"T":"800K","strain":0.17,"stress":0.102},{"T":"800K","strain":0.18,"stress":0.097},{"T":"800K","strain":0.19,"stress":0.093},{"T":"800K","strain":0.2,"stress":0.092},{"T":"800K","strain":0.21,"stress":0.09},{"T":"800K","strain":0.22,"stress":0.088},{"T":"800K","strain":0.23,"stress":0.087},{"T":"800K","strain":0.24,"stress":0.087},{"T":"800K","strain":0.25,"stress":0.087},
{"T":"900K","strain":0.002,"stress":0},{"T":"900K","strain":0.005,"stress":0.013},{"T":"900K","strain":0.01,"stress":0.032},{"T":"900K","strain":0.015,"stress":0.052},{"T":"900K","strain":0.02,"stress":0.073},{"T":"900K","strain":0.025,"stress":0.093},{"T":"900K","strain":0.03,"stress":0.114},{"T":"900K","strain":0.035,"stress":0.135},{"T":"900K","strain":0.04,"stress":0.155},{"T":"900K","strain":0.045,"stress":0.172},{"T":"900K","strain":0.05,"stress":0.187},{"T":"900K","strain":0.055,"stress":0.202},{"T":"900K","strain":0.06,"stress":0.212},{"T":"900K","strain":0.065,"stress":0.217},{"T":"900K","strain":0.07,"stress":0.212},{"T":"900K","strain":0.075,"stress":0.199},{"T":"900K","strain":0.08,"stress":0.185},{"T":"900K","strain":0.085,"stress":0.173},{"T":"900K","strain":0.09,"stress":0.165},{"T":"900K","strain":0.095,"stress":0.155},{"T":"900K","strain":0.1,"stress":0.144},{"T":"900K","strain":0.105,"stress":0.131},{"T":"900K","strain":0.11,"stress":0.117},{"T":"900K","strain":0.115,"stress":0.107},{"T":"900K","strain":0.12,"stress":0.1},{"T":"900K","strain":0.125,"stress":0.093},{"T":"900K","strain":0.13,"stress":0.088},{"T":"900K","strain":0.14,"stress":0.084},{"T":"900K","strain":0.15,"stress":0.084},{"T":"900K","strain":0.16,"stress":0.083},{"T":"900K","strain":0.17,"stress":0.083},{"T":"900K","strain":0.18,"stress":0.083},{"T":"900K","strain":0.185,"stress":0.08},{"T":"900K","strain":0.19,"stress":0.076},{"T":"900K","strain":0.195,"stress":0.07},{"T":"900K","strain":0.2,"stress":0.066},{"T":"900K","strain":0.21,"stress":0.063},{"T":"900K","strain":0.22,"stress":0.061},{"T":"900K","strain":0.23,"stress":0.058},{"T":"900K","strain":0.24,"stress":0.058},{"T":"900K","strain":0.25,"stress":0.058},
{"T":"1000K","strain":0.002,"stress":0},{"T":"1000K","strain":0.005,"stress":0.012},{"T":"1000K","strain":0.01,"stress":0.031},{"T":"1000K","strain":0.015,"stress":0.05},{"T":"1000K","strain":0.02,"stress":0.07},{"T":"1000K","strain":0.025,"stress":0.09},{"T":"1000K","strain":0.03,"stress":0.11},{"T":"1000K","strain":0.035,"stress":0.13},{"T":"1000K","strain":0.04,"stress":0.15},{"T":"1000K","strain":0.045,"stress":0.165},{"T":"1000K","strain":0.05,"stress":0.178},{"T":"1000K","strain":0.055,"stress":0.19},{"T":"1000K","strain":0.06,"stress":0.199},{"T":"1000K","strain":0.065,"stress":0.206},{"T":"1000K","strain":0.07,"stress":0.201},{"T":"1000K","strain":0.075,"stress":0.189},{"T":"1000K","strain":0.08,"stress":0.175},{"T":"1000K","strain":0.085,"stress":0.161},{"T":"1000K","strain":0.09,"stress":0.148},{"T":"1000K","strain":0.095,"stress":0.138},{"T":"1000K","strain":0.1,"stress":0.126},{"T":"1000K","strain":0.105,"stress":0.117},{"T":"1000K","strain":0.11,"stress":0.107},{"T":"1000K","strain":0.115,"stress":0.097},{"T":"1000K","strain":0.12,"stress":0.09},{"T":"1000K","strain":0.125,"stress":0.085},{"T":"1000K","strain":0.13,"stress":0.08},{"T":"1000K","strain":0.14,"stress":0.076},{"T":"1000K","strain":0.15,"stress":0.073},{"T":"1000K","strain":0.16,"stress":0.071},{"T":"1000K","strain":0.17,"stress":0.07},{"T":"1000K","strain":0.18,"stress":0.069},{"T":"1000K","strain":0.19,"stress":0.066},{"T":"1000K","strain":0.2,"stress":0.063},{"T":"1000K","strain":0.21,"stress":0.061},{"T":"1000K","strain":0.22,"stress":0.058},{"T":"1000K","strain":0.23,"stress":0.054},{"T":"1000K","strain":0.24,"stress":0.051},{"T":"1000K","strain":0.25,"stress":0.049},
{"T":"1100K","strain":0.003,"stress":0},{"T":"1100K","strain":0.005,"stress":0.01},{"T":"1100K","strain":0.01,"stress":0.029},{"T":"1100K","strain":0.015,"stress":0.048},{"T":"1100K","strain":0.02,"stress":0.068},{"T":"1100K","strain":0.025,"stress":0.088},{"T":"1100K","strain":0.03,"stress":0.107},{"T":"1100K","strain":0.035,"stress":0.126},{"T":"1100K","strain":0.04,"stress":0.144},{"T":"1100K","strain":0.045,"stress":0.161},{"T":"1100K","strain":0.05,"stress":0.173},{"T":"1100K","strain":0.055,"stress":0.18},{"T":"1100K","strain":0.06,"stress":0.181},{"T":"1100K","strain":0.065,"stress":0.18},{"T":"1100K","strain":0.07,"stress":0.177},{"T":"1100K","strain":0.075,"stress":0.165},{"T":"1100K","strain":0.08,"stress":0.151},{"T":"1100K","strain":0.085,"stress":0.136},{"T":"1100K","strain":0.09,"stress":0.126},{"T":"1100K","strain":0.095,"stress":0.119},{"T":"1100K","strain":0.1,"stress":0.116},{"T":"1100K","strain":0.105,"stress":0.11},{"T":"1100K","strain":0.11,"stress":0.104},{"T":"1100K","strain":0.115,"stress":0.099},{"T":"1100K","strain":0.12,"stress":0.093},{"T":"1100K","strain":0.125,"stress":0.09},{"T":"1100K","strain":0.13,"stress":0.087},{"T":"1100K","strain":0.14,"stress":0.083},{"T":"1100K","strain":0.15,"stress":0.078},{"T":"1100K","strain":0.16,"stress":0.075},{"T":"1100K","strain":0.165,"stress":0.073},{"T":"1100K","strain":0.17,"stress":0.076},{"T":"1100K","strain":0.175,"stress":0.073},{"T":"1100K","strain":0.18,"stress":0.071},{"T":"1100K","strain":0.19,"stress":0.068},{"T":"1100K","strain":0.2,"stress":0.065},{"T":"1100K","strain":0.21,"stress":0.063},{"T":"1100K","strain":0.22,"stress":0.061},{"T":"1100K","strain":0.23,"stress":0.058},{"T":"1100K","strain":0.24,"stress":0.054},{"T":"1100K","strain":0.25,"stress":0.049},
{"T":"1200K","strain":0.004,"stress":0},{"T":"1200K","strain":0.01,"stress":0.022},{"T":"1200K","strain":0.015,"stress":0.04},{"T":"1200K","strain":0.02,"stress":0.059},{"T":"1200K","strain":0.025,"stress":0.078},{"T":"1200K","strain":0.03,"stress":0.097},{"T":"1200K","strain":0.035,"stress":0.116},{"T":"1200K","strain":0.04,"stress":0.133},{"T":"1200K","strain":0.045,"stress":0.144},{"T":"1200K","strain":0.05,"stress":0.155},{"T":"1200K","strain":0.055,"stress":0.165},{"T":"1200K","strain":0.06,"stress":0.172},{"T":"1200K","strain":0.065,"stress":0.172},{"T":"1200K","strain":0.07,"stress":0.166},{"T":"1200K","strain":0.075,"stress":0.155},{"T":"1200K","strain":0.08,"stress":0.141},{"T":"1200K","strain":0.085,"stress":0.127},{"T":"1200K","strain":0.09,"stress":0.117},{"T":"1200K","strain":0.095,"stress":0.109},{"T":"1200K","strain":0.1,"stress":0.102},{"T":"1200K","strain":0.105,"stress":0.099},{"T":"1200K","strain":0.11,"stress":0.095},{"T":"1200K","strain":0.115,"stress":0.092},{"T":"1200K","strain":0.12,"stress":0.087},{"T":"1200K","strain":0.125,"stress":0.08},{"T":"1200K","strain":0.13,"stress":0.075},{"T":"1200K","strain":0.135,"stress":0.068},{"T":"1200K","strain":0.14,"stress":0.068},{"T":"1200K","strain":0.15,"stress":0.068},{"T":"1200K","strain":0.16,"stress":0.066},{"T":"1200K","strain":0.17,"stress":0.061},{"T":"1200K","strain":0.18,"stress":0.059},{"T":"1200K","strain":0.19,"stress":0.056},{"T":"1200K","strain":0.2,"stress":0.051},{"T":"1200K","strain":0.21,"stress":0.048},{"T":"1200K","strain":0.22,"stress":0.049},{"T":"1200K","strain":0.23,"stress":0.049},{"T":"1200K","strain":0.24,"stress":0.048},{"T":"1200K","strain":0.25,"stress":0.046}
 ]
},
"spacing": 20,
"resolve": {"scale": {"color": "independent", "x": "independent", "y": "independent"}, "legend": {"color": "independent"}},
"vconcat": [
 {
  "spacing": 0,
  "resolve": {"scale": {"color": "independent", "x": "independent", "y": "independent"}, "legend": {"color": "independent"}},
  "hconcat": [
   {"width": 1, "height": 1, "view": {"stroke": null}, "data": {"values": [{"s": 0}]}, "mark": {"type": "point", "opacity": 0}},
   {
    "width": 470, "height": 349,
    "title": {"text": "(a)", "anchor": "start", "frame": "group", "orient": "top", "font": "Liberation Serif", "fontSize": 46, "fontWeight": "normal", "color": "black", "baseline": "top", "offset": -46, "dx": -94, "dy": 5},
    "encoding": {
     "x": {"field": "strain", "type": "quantitative", "scale": {"domain": [0, 0.25], "nice": false, "zero": false},
       "axis": {"title": "Strain", "values": [0,0.025,0.05,0.075,0.1,0.125,0.15,0.175,0.2,0.225,0.25], "labelExpr": "abs(datum.value*20-round(datum.value*20))<0.001 ? format(datum.value,'.2f') : ''", "tickSize": {"condition": {"test": "abs(datum.value*20-round(datum.value*20))<0.001", "value": -8}, "value": -4}}},
     "y": {"field": "stress", "type": "quantitative", "scale": {"domain": [0, 0.4], "nice": false},
       "axis": {"title": "Stress (GPa)", "values": [0,0.05,0.1,0.15,0.2,0.25,0.3,0.35,0.4], "labelExpr": "abs(datum.value*10-round(datum.value*10))<0.001 ? format(datum.value,'.1f') : ''", "tickSize": {"condition": {"test": "abs(datum.value*10-round(datum.value*10))<0.001", "value": -8}, "value": -4}}}
    },
    "layer": [
     {"data": {"name": "a"}, "mark": {"type": "line", "strokeWidth": 2.8, "clip": true},
      "encoding": {"color": {"field": "T", "type": "nominal", "scale": {"domain": ["300K","800K","900K","1000K","1100K","1200K"], "range": ["#000000","#FF0000","#0000FF","#008080","#FF00FF","#808000"]}, "legend": {"legendX": 334, "legendY": 37}}}},
     {"data": {"values": [{"label": "[001] crystal orientation", "strain": 0.1043, "stress": 0.3736}]}, "mark": {"type": "text", "font": "Liberation Sans", "fontSize": 20, "color": "black"}, "encoding": {"text": {"field": "label"}}}
    ]
   }
  ]
 },
 {
  "spacing": 6,
  "resolve": {"scale": {"color": "independent", "x": "independent", "y": "independent"}, "legend": {"color": "independent"}},
  "vconcat": [
   {
    "spacing": 0,
    "resolve": {"scale": {"color": "independent", "x": "independent", "y": "independent"}, "legend": {"color": "independent"}},
    "hconcat": [
     {"width": 1, "height": 1, "view": {"stroke": null}, "data": {"values": [{"s": 0}]}, "mark": {"type": "point", "opacity": 0}},
     {
      "width": 462, "height": 342,
      "title": {"text": "(b)", "anchor": "start", "frame": "group", "orient": "top", "font": "Liberation Serif", "fontSize": 46, "fontWeight": "normal", "color": "black", "baseline": "top", "offset": -46, "dx": -102, "dy": 5},
      "encoding": {
       "x": {"field": "strain", "type": "quantitative", "scale": {"domain": [0, 0.25], "nice": false, "zero": false},
         "axis": {"title": "Strain", "values": [0,0.025,0.05,0.075,0.1,0.125,0.15,0.175,0.2,0.225,0.25], "labelExpr": "abs(datum.value*20-round(datum.value*20))<0.001 ? format(datum.value,'.2f') : ''", "tickSize": {"condition": {"test": "abs(datum.value*20-round(datum.value*20))<0.001", "value": -8}, "value": -4}}},
       "y": {"field": "stress", "type": "quantitative", "scale": {"domain": [0, 0.2], "nice": false},
         "axis": {"title": "Stress (GPa)", "values": [0,0.025,0.05,0.075,0.1,0.125,0.15,0.175,0.2], "labelExpr": "abs(datum.value*20-round(datum.value*20))<0.001 ? format(datum.value,'.2f') : ''", "tickSize": {"condition": {"test": "abs(datum.value*20-round(datum.value*20))<0.001", "value": -8}, "value": -4}}}
      },
      "layer": [
       {"data": {"name": "b"}, "mark": {"type": "line", "strokeWidth": 2.8, "clip": true},
        "encoding": {"color": {"field": "T", "type": "nominal", "scale": {"domain": ["300K","800K","900K","1000K","1100K","1200K"], "range": ["#000000","#FF0000","#0000FF","#008080","#FF00FF","#808000"]}, "legend": {"legendX": 241, "legendY": 201}}}},
       {"data": {"values": [{"label": "[110] crystal orientation", "strain": 0.1245, "stress": 0.1807}]}, "mark": {"type": "text", "font": "Liberation Sans", "fontSize": 20, "color": "black"}, "encoding": {"text": {"field": "label"}}}
      ]
     }
    ]
   },
   {
    "spacing": 0,
    "resolve": {"scale": {"color": "independent", "x": "independent", "y": "independent"}, "legend": {"color": "independent"}},
    "hconcat": [
     {"width": 1, "height": 1, "view": {"stroke": null}, "data": {"values": [{"s": 0}]}, "mark": {"type": "point", "opacity": 0}},
     {
      "width": 460, "height": 342,
      "title": {"text": "(c)", "anchor": "start", "frame": "group", "orient": "top", "font": "Liberation Serif", "fontSize": 46, "fontWeight": "normal", "color": "black", "baseline": "top", "offset": -46, "dx": -105, "dy": 5},
      "encoding": {
       "x": {"field": "strain", "type": "quantitative", "scale": {"domain": [0, 0.25], "nice": false, "zero": false},
         "axis": {"title": "Strain", "values": [0,0.025,0.05,0.075,0.1,0.125,0.15,0.175,0.2,0.225,0.25], "labelExpr": "abs(datum.value*20-round(datum.value*20))<0.001 ? format(datum.value,'.2f') : ''", "tickSize": {"condition": {"test": "abs(datum.value*20-round(datum.value*20))<0.001", "value": -8}, "value": -4}}},
       "y": {"field": "stress", "type": "quantitative", "scale": {"domain": [0, 0.35], "nice": false},
         "axis": {"title": "Stress (GPa)", "values": [0,0.025,0.05,0.075,0.1,0.125,0.15,0.175,0.2,0.225,0.25,0.275,0.3,0.325,0.35], "labelExpr": "abs(datum.value*20-round(datum.value*20))<0.001 ? format(datum.value,'.2f') : ''", "tickSize": {"condition": {"test": "abs(datum.value*20-round(datum.value*20))<0.001", "value": -8}, "value": -4}}}
      },
      "layer": [
       {"data": {"name": "c"}, "mark": {"type": "line", "strokeWidth": 2.8, "clip": true},
        "encoding": {"color": {"field": "T", "type": "nominal", "scale": {"domain": ["300K","800K","900K","1000K","1100K","1200K"], "range": ["#000000","#FF0000","#0000FF","#008080","#FF00FF","#808000"]}, "legend": {"legendX": 280, "legendY": 68}}}},
       {"data": {"values": [{"label": "[111] crystal orientation", "strain": 0.1522, "stress": 0.3254}]}, "mark": {"type": "text", "font": "Liberation Sans", "fontSize": 20, "color": "black"}, "encoding": {"text": {"field": "label"}}}
      ]
     }
    ]
   }
  ]
 }
]
}
